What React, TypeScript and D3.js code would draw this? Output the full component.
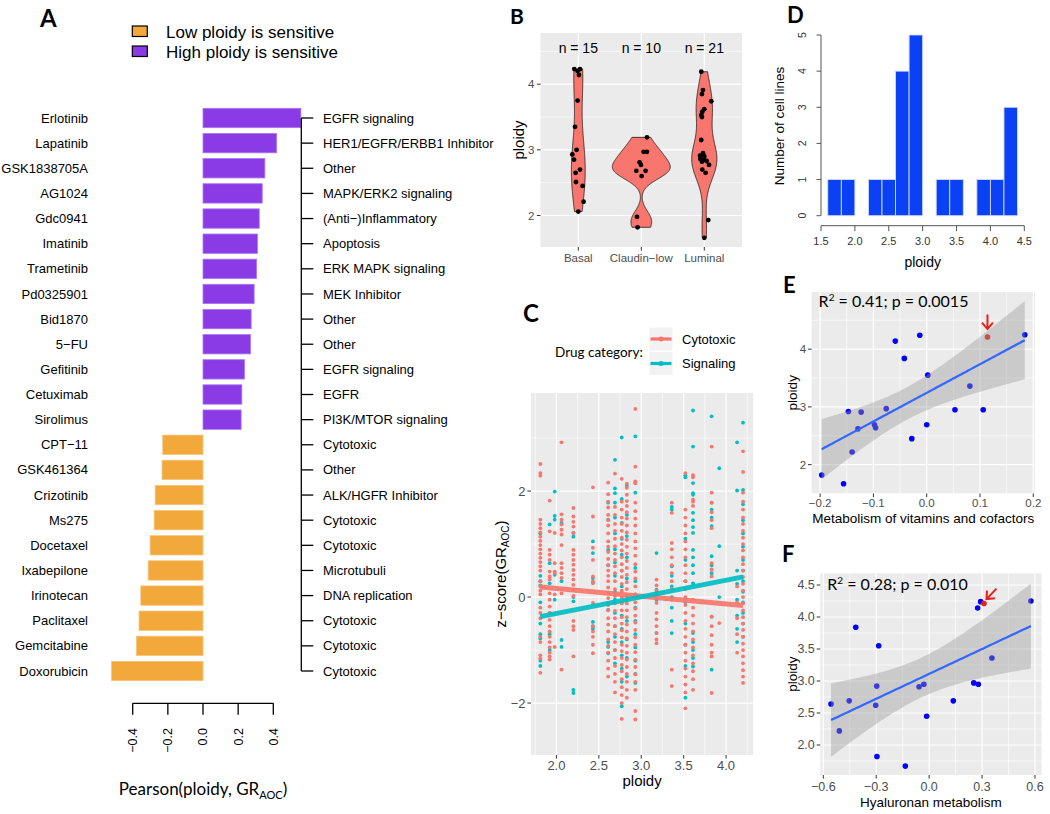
import React from "react";
import * as d3 from "d3";

// ---------------- Panel A data ----------------
const drugNames = ["Erlotinib", "Lapatinib", "GSK1838705A", "AG1024", "Gdc0941", "Imatinib", "Trametinib", "Pd0325901", "Bid1870", "5−FU", "Gefitinib", "Cetuximab", "Sirolimus", "CPT−11", "GSK461364", "Crizotinib", "Ms275", "Docetaxel", "Ixabepilone", "Irinotecan", "Paclitaxel", "Gemcitabine", "Doxorubicin"];
const pearsonR = [0.557, 0.419, 0.352, 0.337, 0.32, 0.31, 0.305, 0.291, 0.274, 0.27, 0.236, 0.221, 0.217, -0.229, -0.233, -0.272, -0.278, -0.301, -0.312, -0.354, -0.364, -0.379, -0.52];
const drugTargets = ["EGFR signaling", "HER1/EGFR/ERBB1 Inhibitor", "Other", "MAPK/ERK2 signaling", "(Anti−)Inflammatory", "Apoptosis", "ERK MAPK signaling", "MEK Inhibitor", "Other", "Other", "EGFR signaling", "EGFR", "PI3K/MTOR signaling", "Cytotoxic", "Other", "ALK/HGFR Inhibitor", "Cytotoxic", "Cytotoxic", "Microtubuli", "DNA replication", "Cytotoxic", "Cytotoxic", "Cytotoxic"];
const sensitivityLegend = ["Low ploidy is sensitive", "High ploidy is sensitive"];
const pearsonTicks = [-0.4, -0.2, 0, 0.2, 0.4];

// ---------------- Panel B data ----------------
const subtypes = ["Basal", "Claudin−low", "Luminal"];
const basalPloidy = [4.23, 4.23, 4.2, 4.14, 3.75, 3.35, 3.0, 2.93, 2.85, 2.7, 2.65, 2.51, 2.45, 2.21, 2.06];
const basalJitter = [-0.063, 0.027, -0.011, 0.011, -0.011, -0.052, -0.027, -0.095, -0.068, 0.027, -0.043, -0.037, 0.068, 0.084, 0];
const claudinPloidy = [3.19, 2.97, 2.97, 2.81, 2.77, 2.68, 2.68, 2.6, 1.98, 1.82];
const claudinJitter = [0.09, 0.037, 0.09, -0.027, -0.005, -0.079, 0.068, 0.005, -0.068, -0.059];
const luminalPloidy = [4.19, 3.91, 3.85, 3.74, 3.62, 3.58, 3.53, 3.5, 3.15, 2.95, 2.91, 2.9, 2.86, 2.85, 2.83, 2.82, 2.77, 2.7, 2.65, 1.93, 1.66];
const luminalJitter = [-0.048, -0.021, -0.037, 0.111, 0, -0.032, -0.048, -0.037, -0.048, -0.021, -0.068, 0, -0.063, -0.005, 0.037, -0.037, 0.075, -0.032, 0.021, 0.063, 0];
// maximal violin width of each subtype, in category units
const violinMaxWidth = [0.22, 0.92, 0.4];
const nLabelY = 4.55;

// ---------------- Panel C data ----------------
const drugCategories = ["Cytotoxic", "Signaling"];
const cPloidy = [1.81, 1.92, 1.98, 2.06, 2.2, 2.43, 2.61, 2.69, 2.77, 2.83, 2.93, 3.18, 3.36, 3.52, 3.61, 3.83, 3.92, 4.13, 4.2];
const cCytotoxic = [
  "2.51 2.34 2.29 1.46 1.38 1.30 1.22 1.14 1.06 0.98 0.90 0.82 0.74 0.66 0.58 0.50 0.30 0.20 0.12 0.05 -0.20 -0.30 -0.40 -0.75 -0.85 -1.10 -1.16 -1.43",
  "1.82 1.24 0.89 0.80 0.70 0.48 0.39 0.33 0.07 -0.05 -0.18 -0.30 -0.43 -0.55 -0.65 -0.75 -0.85 -0.95 -1.05 -1.12 -1.18",
  "1.21 0.64 0.48 0.45 0.05 -0.94",
  "2.92 1.56 1.46 1.37 1.27 1.18 0.98 0.64 0.55 0.45 0.36 0.07 -1.37",
  "1.68 1.52 1.42 1.33 1.21 0.89 0.80 0.70 0.61 0.51 0.42 0.33 0.23 0.14 0.02 -0.45 -0.55 -0.62 -1.12",
  "2.07 1.52 0.93 0.70 0.39 0.30 0.26 -0.11 -0.55 -0.65 -0.75 -0.90 -1.06",
  "2.16 1.94 1.80 1.69 1.55 1.45 1.35 1.20 1.05 0.95 0.85 0.72 0.60 0.50 0.40 0.30 0.18 0.08 -0.02 -0.15 -0.25 -0.40 -0.52 -0.65 -0.80 -0.92 -1.05 -1.20 -1.35 -1.50",
  "2.33 1.70 1.55 1.38 1.25 1.10 0.96 0.82 0.70 0.58 0.45 0.30 0.15 0.02 -0.12 -0.26 -0.40 -0.55 -0.70 -0.85 -1.00 -1.15 -1.30 -1.45 -1.60 -1.80",
  "2.23 1.80 1.65 1.50 1.38 1.25 1.12 1.00 0.88 0.75 0.62 0.50 0.38 0.25 0.12 0.00 -0.12 -0.25 -0.38 -0.50 -0.63 -0.76 -0.90 -1.02 -1.15 -1.28 -1.40 -1.55 -1.70 -1.85 -2.00 -2.30",
  "2.14 2.06 1.93 1.81 1.72 1.60 1.48 1.35 1.22 1.08 0.95 0.82 0.68 0.55 0.42 0.28 0.15 0.02 -0.12 -0.25 -0.38 -0.52 -0.65 -0.78 -0.92 -1.05 -1.18 -1.32 -1.45 -1.60 -1.75 -1.90",
  "3.55 2.46 2.18 2.15 1.78 1.62 1.48 1.35 1.20 1.05 0.92 0.78 0.62 0.48 0.35 0.20 0.05 -0.10 -0.22 -0.35 -0.48 -0.62 -0.76 -0.90 -1.04 -1.18 -1.32 -1.46 -1.60 -1.75 -2.15 -2.31",
  "0.33 0.22 0.12 0.02 -0.11 -0.30 -0.42 -0.55 -0.68 -0.80 -0.87",
  "1.78 1.59 1.02 0.90 0.75 0.60 0.45 0.30 0.15 -0.05 -1.37 -1.68",
  "2.34 1.65 1.50 1.35 1.20 1.05 0.90 0.75 0.60 0.45 0.30 0.15 0.00 -0.15 -0.30 -0.45 -0.60 -0.75 -0.90 -1.05 -1.20 -1.35 -1.50 -1.65 -1.80 -2.10",
  "2.30 2.26 1.84 1.80 1.72 -0.05 -0.20 -0.35 -0.50 -0.65 -0.80 -0.95 -1.10 -1.25 -1.40 -1.55 -1.75",
  "2.84 1.97 1.78 1.60 1.45 1.30 0.64 0.52 0.39 -0.37 -0.55 -0.72 -0.90 -1.05 -1.12 -1.81",
  "-0.49",
  "0.20 -0.10 -0.40 -0.70 -1.05",
  "2.75 2.36 1.97 1.80 1.65 1.50 1.38 1.25 1.12 1.00 0.88 0.75 0.62 0.50 0.38 0.25 0.12 0.00 -0.12 -0.25 -0.38 -0.50 -0.62 -0.75 -0.88 -1.00 -1.12 -1.25 -1.38 -1.50 -1.62",
];
const cSignaling = [
  "1.20 0.40 0.30 0.22 -0.10 -0.50 -0.70 -0.78 -1.20 -1.30",
  "1.37 0.64 0.26 -0.30 -0.70 -1.00",
  "1.99 1.53 1.46 0.42 -0.05",
  "1.40 0.30 -0.81 -0.94",
  "1.21 1.14 0.00 -0.08 -1.75 -1.81",
  "1.05 0.83 0.36 0.28 -0.47 -0.55 -0.60",
  "1.78 1.46 0.89 0.60 -0.11 -0.24 -0.85 -0.94 -1.06",
  "2.59 2.05 1.96 1.78 1.50 1.20 0.90 0.65 0.40 0.10 -0.05 -0.30 -0.55 -0.75 -1.00 -1.25",
  "3.01 1.85 1.40 1.10 0.80 0.50 0.20 -0.10 -0.35 -0.60 -0.85 -1.10 -1.35 -1.60 -2.06",
  "2.10 1.55 1.15 0.75 0.35 -0.05 -0.45 -0.80 -1.15 -1.50",
  "3.03 2.15 1.97 0.55 0.30 0.05 -0.20 -0.45 -0.70 -0.95 -1.20 -1.45 -1.62",
  "0.83 0.14 0.05 -0.05 -0.68",
  "1.70 1.65 0.58 0.40 0.20 0.00 -0.20 -0.45 -0.68",
  "2.30 2.26 1.10 0.70 0.30 -0.10 -0.50 -0.90 -1.30 -1.90",
  "3.52 2.84 2.15 1.96 1.93 1.59 1.45 1.32 1.21 0.89 0.75 0.60 0.45 0.26 -0.68 -0.85 -1.00 -1.15 -1.31",
  "3.41 1.78 1.65 1.50 1.34 0.77 0.60 0.45 -0.37 -1.37",
  "2.43 0.96 0.00",
  "2.92 2.01 0.50 0.25 -0.05 -0.35 -0.60 -0.85",
  "3.29 2.02 1.75 1.45 1.20 0.95 0.70 0.50 0.30 0.10 -0.10 -0.30 -0.50 -0.75",
];
const cFitX = [1.81, 4.2];
const cFitCytotoxic = [0.19, -0.16];
const cFitSignaling = [-0.37, 0.38];

// ---------------- Panels D/E/F data (20 cell lines) ----------------
const cellPloidy = [1.82, 1.67, 2.22, 2.62, 2.92, 2.91, 2.69, 2.64, 2.97, 4.14, 3.84, 2.45, 4.24, 2.69, 3.55, 2.95, 3.36, 2.95, 4.21, 4.25];
const vitaminsScore = [-0.197, -0.156, -0.14, -0.129, -0.147, -0.123, -0.098, -0.096, -0.076, -0.059, -0.042, -0.028, -0.013, 0.0, 0.002, 0.053, 0.081, 0.106, 0.114, 0.184];
const hyaluronanScore = [-0.296, -0.135, -0.509, -0.303, -0.297, -0.057, -0.453, -0.556, 0.253, 0.275, -0.416, -0.014, 0.292, 0.137, -0.286, -0.03, 0.356, 0.279, 0.311, 0.577];
const highlightedLine = 18;
const histBreaks = [1.6, 1.8, 2.0, 2.2, 2.4, 2.6, 2.8, 3.0, 3.2, 3.4, 3.6, 3.8, 4.0, 4.2, 4.4];
const statE = { r2: "0.41", p: "0.0015" };
const statF = { r2: "0.28", p: "0.010" };

// ---------------- styling ----------------
const SANS = "'Liberation Sans', Arial, Helvetica, sans-serif";
const CAL = "Lato, 'Open Sans', sans-serif";
const ORANGE = "#F2A83B";
const PURPLE = "#8B3BE6";
const BG = "#EBEBEB";
const TICKTXT = "#4D4D4D";
const TICKLINE = "#333333";
const RED = "#F8766D";
const TEAL = "#00BFC4";

const parse = (s: string) => s.trim().split(/\s+/).map(Number);
const inDom = (vals: number[], dom: number[]) => vals.filter((v) => v >= Math.min(dom[0], dom[1]) && v <= Math.max(dom[0], dom[1]));
const fmt1 = d3.format(".1f");

function Grid({ x, y, xMajor, xMinor, yMajor, yMinor }: any) {
  const [x0, x1] = x.range();
  const [y0, y1] = y.range();
  return (
    <g>
      <rect x={x0} y={y1} width={x1 - x0} height={y0 - y1} fill={BG} />
      {inDom(yMinor, y.domain()).map((v: number) => (
        <line key={"ym" + v} x1={x0} x2={x1} y1={y(v)} y2={y(v)} stroke="#fff" strokeWidth={0.6} />
      ))}
      {inDom(xMinor, x.domain()).map((v: number) => (
        <line key={"xm" + v} x1={x(v)} x2={x(v)} y1={y0} y2={y1} stroke="#fff" strokeWidth={0.6} />
      ))}
      {inDom(yMajor, y.domain()).map((v: number) => (
        <line key={"yM" + v} x1={x0} x2={x1} y1={y(v)} y2={y(v)} stroke="#fff" strokeWidth={1.2} />
      ))}
      {inDom(xMajor, x.domain()).map((v: number) => (
        <line key={"xM" + v} x1={x(v)} x2={x(v)} y1={y0} y2={y1} stroke="#fff" strokeWidth={1.2} />
      ))}
    </g>
  );
}

// ---------------- Panel A ----------------
function PanelA() {
  const x = d3.scaleLinear().domain([-0.4, 0.4]).range([132.7, 273.3]);
  const y = d3.scalePoint<string>().domain(drugNames).range([118, 671]);
  const bh = y.step() * 0.77;
  const treeX = 301.3;
  const axisY = 703.3;
  return (
    <g>
      <text x={40} y={27} fontFamily={CAL} fontWeight={700} fontSize={24}>A</text>
      {sensitivityLegend.map((l, i) => (
        <g key={l}>
          <rect x={132.3} y={26 + i * 20} width={15} height={10.5} fill={i ? PURPLE : ORANGE} stroke="#000" strokeWidth={1.2} />
          <text x={166} y={37.5 + i * 20} fontSize={17}>{l}</text>
        </g>
      ))}
      {drugNames.map((d, i) => {
        const v = pearsonR[i];
        const c = y(d)!;
        return (
          <g key={d + i}>
            <rect x={x(Math.min(0, v))} y={c - bh / 2} width={Math.abs(x(v) - x(0))} height={bh} fill={v < 0 ? ORANGE : PURPLE} stroke={v < 0 ? "#F6C47A" : "#A878F0"} strokeWidth={0.8} />
            <text x={88} y={c} dy="0.35em" textAnchor="end" fontSize={13}>{d}</text>
            <line x1={treeX} x2={treeX + 12} y1={c} y2={c} stroke="#000" strokeWidth={1.3} />
            <text x={323} y={c} dy="0.35em" fontSize={13}>{drugTargets[i]}</text>
          </g>
        );
      })}
      <line x1={treeX} x2={treeX} y1={y(drugNames[0])} y2={y(drugNames[drugNames.length - 1])} stroke="#000" strokeWidth={1.3} />
      <line x1={x(-0.4)} x2={x(0.4)} y1={axisY} y2={axisY} stroke="#000" strokeWidth={1.3} />
      {pearsonTicks.map((t) => (
        <g key={t}>
          <line x1={x(t)} x2={x(t)} y1={axisY} y2={axisY + 11.5} stroke="#000" strokeWidth={1.3} />
          <text transform={`translate(${x(t) + 4.4},728) rotate(-90)`} textAnchor="end" fontSize={12.5}>{fmt1(t)}</text>
        </g>
      ))}
      <text x={203} y={795} textAnchor="middle" fontFamily={CAL} fontSize={17}>
        Pearson(ploidy, GR<tspan fontSize={11} dy={4}>AOC</tspan><tspan dy={-4}>)</tspan>
      </text>
    </g>
  );
}

// ---------------- Panel B ----------------
function kde(values: number[]) {
  const n = values.length;
  const sorted = values.slice().sort(d3.ascending);
  const sd = d3.deviation(values)!;
  const iqr = d3.quantileSorted(sorted, 0.75)! - d3.quantileSorted(sorted, 0.25)!;
  const bw = 0.9 * Math.min(sd, iqr / 1.34) * Math.pow(n, -0.2);
  const [mn, mx] = d3.extent(values) as [number, number];
  const g = (u: number) => Math.exp(-0.5 * u * u) / Math.sqrt(2 * Math.PI);
  return d3.range(200).map((i) => {
    const yv = mn + ((mx - mn) * i) / 199;
    return [yv, (d3.mean(values, (v) => g((yv - v) / bw))! / bw)] as [number, number];
  });
}

function PanelB() {
  const groups = [basalPloidy, claudinPloidy, luminalPloidy];
  const jit = [basalJitter, claudinJitter, luminalJitter];
  const xc = d3.scalePoint<string>().domain(subtypes).range([578.3, 704.3]);
  const step = xc.step();
  const x = d3.scaleLinear().domain([0.4, 3.6]).range([xc(subtypes[0])! - 0.6 * step, xc(subtypes[2])! + 0.6 * step]);
  const y = d3.scaleLinear().domain([1.52, 4.78]).range([247, 33]);
  const dens = groups.map(kde);
  const x0 = x.range()[0];
  return (
    <g>
      <text x={510} y={24} fontFamily={CAL} fontWeight={700} fontSize={21}>B</text>
      <Grid x={x} y={y} xMajor={[1, 2, 3]} xMinor={[]} yMajor={[2, 3, 4]} yMinor={[1.5, 2.5, 3.5, 4.5]} />
      {groups.map((g, gi) => {
        const cx = xc(subtypes[gi])!;
        const maxD = d3.max(dens[gi], (d) => d[1])!;
        const half = (violinMaxWidth[gi] / 2) * step;
        const area = d3.area<[number, number]>()
          .x0((d) => cx - (d[1] / maxD) * half)
          .x1((d) => cx + (d[1] / maxD) * half)
          .y((d) => y(d[0]));
        return <path key={gi} d={area(dens[gi])!} fill={RED} stroke="#1a1a1a" strokeWidth={0.8} />;
      })}
      {groups.map((g, gi) =>
        g.map((v, i) => <circle key={gi + "-" + i} cx={xc(subtypes[gi])! + jit[gi][i] * step} cy={y(v)} r={2.4} fill="#000" />)
      )}
      {groups.map((g, gi) => (
        <text key={"n" + gi} x={xc(subtypes[gi])} y={y(nLabelY)} dy="0.35em" textAnchor="middle" fontSize={14}>{`n = ${g.length}`}</text>
      ))}
      {[2, 3, 4].map((t) => (
        <g key={t}>
          <line x1={x0 - 3.6} x2={x0} y1={y(t)} y2={y(t)} stroke={TICKLINE} />
          <text x={x0 - 6} y={y(t)} dy="0.35em" textAnchor="end" fontSize={11.5} fill={TICKTXT}>{t}</text>
        </g>
      ))}
      {subtypes.map((s) => (
        <g key={s}>
          <line x1={xc(s)} x2={xc(s)} y1={247} y2={250.6} stroke={TICKLINE} />
          <text x={xc(s)} y={262} textAnchor="middle" fontSize={11.5} fill={TICKTXT}>{s}</text>
        </g>
      ))}
      <text transform={`translate(519,140) rotate(-90)`} dy="0.35em" textAnchor="middle" fontSize={15}>ploidy</text>
    </g>
  );
}

// ---------------- Panel C ----------------
function PanelC() {
  const x = d3.scaleLinear().domain([1.7, 4.32]).range([531, 753.2]);
  const y = d3.scaleLinear().domain([-2.98, 3.85]).range([755, 393]);
  const cols = cPloidy.map((p, i) => ({ p, c: parse(cCytotoxic[i]), s: parse(cSignaling[i]) }));
  const x0 = x.range()[0];
  return (
    <g>
      <text x={523} y={322} fontFamily={CAL} fontWeight={700} fontSize={24}>C</text>
      <text x={555} y={352} dy="0.35em" fontFamily={CAL} fontSize={13.5}>Drug category:</text>
      {drugCategories.map((c, i) => {
        const ky = 327 + i * 24.5;
        const col = i ? TEAL : RED;
        return (
          <g key={c}>
            <rect x={649} y={ky} width={24} height={24} fill="#F2F2F2" stroke="#fff" strokeWidth={1} />
            <line x1={650.5} x2={671.5} y1={ky + 12} y2={ky + 12} stroke={col} strokeWidth={3.2} />
            <circle cx={661} cy={ky + 12} r={2.5} fill={col} />
            <text x={682} y={ky + 12} dy="0.35em" fontSize={13}>{c}</text>
          </g>
        );
      })}
      <Grid x={x} y={y} xMajor={[2, 2.5, 3, 3.5, 4]} xMinor={[1.75, 2.25, 2.75, 3.25, 3.75, 4.25]} yMajor={[-2, 0, 2]} yMinor={[-3, -1, 1, 3]} />
      {cols.map((col, ci) => (
        <g key={ci}>
          {col.s.map((v, i) => <circle key={"s" + i} cx={x(col.p)} cy={y(v)} r={1.9} fill={TEAL} />)}
          {col.c.map((v, i) => <circle key={"c" + i} cx={x(col.p)} cy={y(v)} r={1.9} fill={RED} />)}
        </g>
      ))}
      <line x1={x(cFitX[0])} x2={x(cFitX[1])} y1={y(cFitCytotoxic[0])} y2={y(cFitCytotoxic[1])} stroke={RED} strokeWidth={5} opacity={0.92} />
      <line x1={x(cFitX[0])} x2={x(cFitX[1])} y1={y(cFitSignaling[0])} y2={y(cFitSignaling[1])} stroke={TEAL} strokeWidth={5} opacity={0.92} />
      {[-2, 0, 2].map((t) => (
        <g key={t}>
          <line x1={x0 - 3.6} x2={x0} y1={y(t)} y2={y(t)} stroke={TICKLINE} />
          <text x={x0 - 5.5} y={y(t)} dy="0.35em" textAnchor="end" fontSize={13} fill={TICKTXT}>{t < 0 ? "−" + Math.abs(t) : t}</text>
        </g>
      ))}
      {[2, 2.5, 3, 3.5, 4].map((t) => (
        <g key={t}>
          <line x1={x(t)} x2={x(t)} y1={755} y2={758.6} stroke={TICKLINE} />
          <text x={x(t)} y={770} textAnchor="middle" fontSize={13} fill={TICKTXT}>{fmt1(t)}</text>
        </g>
      ))}
      <text x={(x.range()[0] + x.range()[1]) / 2} y={786} textAnchor="middle" fontSize={15}>ploidy</text>
      <text transform={`translate(501,574) rotate(-90)`} textAnchor="middle" fontSize={15}>
        <tspan dy="0.35em">z−score(GR</tspan><tspan fontSize={10} dy={3}>AOC</tspan><tspan dy={-3}>)</tspan>
      </text>
    </g>
  );
}

// ---------------- Panel D ----------------
function PanelD() {
  const x = d3.scaleLinear().domain([1.5, 4.5]).range([821, 1024.3]);
  const y = d3.scaleLinear().domain([0, 5]).range([215.7, 35]);
  const bins = d3.bin().domain([histBreaks[0], histBreaks[histBreaks.length - 1]]).thresholds(histBreaks.slice(1, -1))(cellPloidy);
  const axisY = 225.7;
  const axisX = 821;
  return (
    <g>
      <text x={787} y={23} fontFamily={CAL} fontWeight={700} fontSize={22}>D</text>
      {bins.filter((b) => b.length > 0).map((b, i) => (
        <rect key={i} x={x(b.x0!)} y={y(b.length)} width={x(b.x1!) - x(b.x0!)} height={y(0) - y(b.length)} fill="#0A41F5" stroke="#CFD8FF" strokeWidth={0.9} />
      ))}
      <line x1={axisX} x2={axisX} y1={y(0)} y2={y(5)} stroke="#555" />
      {d3.range(0, 6).map((t) => (
        <g key={t}>
          <line x1={axisX - 4.5} x2={axisX} y1={y(t)} y2={y(t)} stroke="#555" />
          <text transform={`translate(805.5,${y(t)}) rotate(-90)`} textAnchor="middle" fontSize={10.5} fill="#333">{t}</text>
        </g>
      ))}
      <line x1={x(1.5)} x2={x(4.5)} y1={axisY} y2={axisY} stroke="#555" />
      {d3.range(3, 10).map((k) => k / 2).map((t) => (
        <g key={t}>
          <line x1={x(t)} x2={x(t)} y1={axisY} y2={axisY + 5.5} stroke="#555" />
          <text x={x(t)} y={245} textAnchor="middle" fontSize={11} fill="#333">{fmt1(t)}</text>
        </g>
      ))}
      <text x={922.7} y={267} textAnchor="middle" fontSize={14}>ploidy</text>
      <text transform={`translate(779,126) rotate(-90)`} dy="0.35em" textAnchor="middle" fontSize={13.5}>Number of cell lines</text>
    </g>
  );
}

// ---------------- Panels E / F ----------------
function lmBand(xs: number[], ys: number[]) {
  const n = xs.length;
  const xb = d3.mean(xs)!;
  const yb = d3.mean(ys)!;
  const sxx = d3.sum(xs, (v) => (v - xb) ** 2);
  const sxy = d3.sum(xs, (v, i) => (v - xb) * (ys[i] - yb));
  const b = sxy / sxx;
  const a = yb - b * xb;
  const sse = d3.sum(xs, (v, i) => (ys[i] - a - b * v) ** 2);
  const s = Math.sqrt(sse / (n - 2));
  const tq = 2.100922; // qt(0.975, df = 18)
  const [mn, mx] = d3.extent(xs) as [number, number];
  return d3.range(80).map((i) => {
    const xv = mn + ((mx - mn) * i) / 79;
    const fit = a + b * xv;
    const se = s * Math.sqrt(1 / n + (xv - xb) ** 2 / sxx);
    return { x: xv, fit, lo: fit - tq * se, hi: fit + tq * se };
  });
}

function arrowPath(tx: number, ty: number, sx: number, sy: number, len = 8.5, ang = 0.7) {
  const a = Math.atan2(ty - sy, tx - sx);
  const p1 = [tx - len * Math.cos(a - ang), ty - len * Math.sin(a - ang)];
  const p2 = [tx - len * Math.cos(a + ang), ty - len * Math.sin(a + ang)];
  return `M${sx},${sy}L${tx},${ty}M${p1[0]},${p1[1]}L${tx},${ty}L${p2[0]},${p2[1]}`;
}

function ScatterPanel(props: any) {
  const { xs, letter, letterPos, xDomain, xRange, yDomain, yRange, xMajor, xMinor, yMajor, yMinor, yFmt, xTitle, tickFont, xTickY, xTitleY, stat, statY, arrow } = props;
  const ys = cellPloidy;
  const x = d3.scaleLinear().domain(xDomain).range(xRange);
  const y = d3.scaleLinear().domain(yDomain).range(yRange);
  const band = lmBand(xs, ys);
  const area = d3.area<any>().x((d) => x(d.x)).y0((d) => y(d.lo)).y1((d) => y(d.hi));
  const line = d3.line<any>().x((d) => x(d.x)).y((d) => y(d.fit));
  const x0 = xRange[0];
  const yb = yRange[0];
  const hx = x(xs[highlightedLine]);
  const hy = y(ys[highlightedLine]);
  return (
    <g>
      <text x={letterPos[0]} y={letterPos[1]} fontFamily={CAL} fontWeight={700} fontSize={22}>{letter}</text>
      <Grid x={x} y={y} xMajor={xMajor} xMinor={xMinor} yMajor={yMajor} yMinor={yMinor} />
      {xs.map((v: number, i: number) => (
        <circle key={i} cx={x(v)} cy={y(ys[i])} r={2.8} fill={i === highlightedLine ? "#E3231B" : "#0000FF"} />
      ))}
      <path d={area(band)!} fill="#999999" opacity={0.4} />
      <path d={line(band)!} fill="none" stroke="#3366FF" strokeWidth={2.2} />
      <path d={arrowPath(hx + arrow[0], hy + arrow[1], hx + arrow[2], hy + arrow[3])} fill="none" stroke="#E8201A" strokeWidth={2} />
      <text x={x0 + 7} y={statY} fontFamily={CAL} fontSize={16}>
        R<tspan fontSize={10} dy={-6}>2</tspan><tspan dy={6}>{` = ${stat.r2}; p = ${stat.p}`}</tspan>
      </text>
      {yMajor.filter((t: number) => t >= yDomain[0] && t <= yDomain[1]).map((t: number) => (
        <g key={t}>
          <line x1={x0 - 3.6} x2={x0} y1={y(t)} y2={y(t)} stroke={TICKLINE} />
          <text x={x0 - 5.5} y={y(t)} dy="0.35em" textAnchor="end" fontSize={tickFont} fill={TICKTXT}>{yFmt(t)}</text>
        </g>
      ))}
      {xMajor.map((t: number) => (
        <g key={t}>
          <line x1={x(t)} x2={x(t)} y1={yb} y2={yb + 3.6} stroke={TICKLINE} />
          <text x={x(t)} y={xTickY} textAnchor="middle" fontSize={tickFont} fill={TICKTXT}>{fmt1(t)}</text>
        </g>
      ))}
      <text x={(xRange[0] + xRange[1]) / 2} y={xTitleY} textAnchor="middle" fontSize={13.5}>{xTitle}</text>
      <text transform={`translate(792,${(yRange[0] + yRange[1]) / 2}) rotate(-90)`} dy="0.35em" textAnchor="middle" fontSize={13.5}>ploidy</text>
    </g>
  );
}

export default function App() {
  return (
    <svg width={1050} height={814} style={{ position: "absolute", left: 0, top: 0, background: "#fff" }} fontFamily={SANS}>
      <rect x={0} y={0} width={1050} height={814} fill="#fff" />
      <PanelA />
      <PanelB />
      <PanelC />
      <PanelD />
      <ScatterPanel
        xs={vitaminsScore}
        letter="E"
        letterPos={[783, 293]}
        xDomain={[-0.216, 0.203]}
        xRange={[811.6, 1034.9]}
        yDomain={[1.5, 4.99]}
        yRange={[493.5, 292]}
        xMajor={[-0.2, -0.1, 0, 0.1, 0.2]}
        xMinor={[-0.15, -0.05, 0.05, 0.15]}
        yMajor={[2, 3, 4]}
        yMinor={[1.5, 2.5, 3.5, 4.5]}
        yFmt={(t: number) => String(t)}
        xTitle="Metabolism of vitamins and cofactors"
        tickFont={11.5}
        xTickY={507}
        xTitleY={523}
        stat={statE}
        statY={306.5}
        arrow={[0, -8, 0, -22.5]}
      />
      <ScatterPanel
        xs={hyaluronanScore}
        letter="F"
        letterPos={[782, 562]}
        xDomain={[-0.617, 0.637]}
        xRange={[820.3, 1041.5]}
        yDomain={[1.531, 4.683]}
        yRange={[775, 573.3]}
        xMajor={[-0.6, -0.3, 0, 0.3, 0.6]}
        xMinor={[-0.45, -0.15, 0.15, 0.45]}
        yMajor={[2, 2.5, 3, 3.5, 4, 4.5]}
        yMinor={[1.75, 2.25, 2.75, 3.25, 3.75, 4.25]}
        yFmt={(t: number) => fmt1(t)}
        xTitle="Hyaluronan metabolism"
        tickFont={12.5}
        xTickY={790.5}
        xTitleY={806.5}
        stat={statF}
        statY={590}
        arrow={[2.5, -4.5, 12.5, -15]}
      />
    </svg>
  );
}
